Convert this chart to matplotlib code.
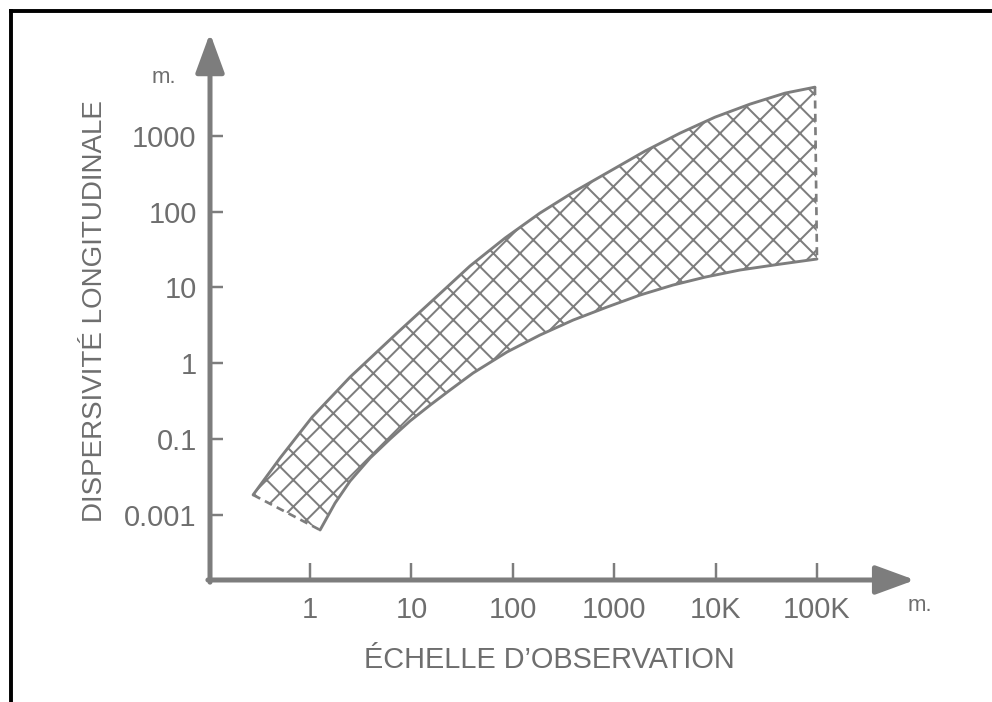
import matplotlib.pyplot as plt
from matplotlib.lines import Line2D

# Data (metres)
scale_upper = [0.274, 0.506, 1.05, 2.48, 7.21, 16.3, 37.8, 83.7, 185, 411, 909,
               2013, 4456, 9862, 21830, 48310, 95500]
disp_upper = [0.0182, 0.0558, 0.194, 0.653, 2.49, 6.78, 19.1, 44.6, 95.3, 186, 341,
              627, 1082, 1758, 2612, 3648, 4375]
scale_lower = [1.255, 1.764, 2.48, 3.91, 6.15, 9.69, 15.3, 24.0, 40.5, 87.7, 185, 393,
               849, 1795, 3800, 7850, 17400, 43200, 100000]
disp_lower = [0.00626, 0.0142, 0.0277, 0.0558, 0.0994, 0.172, 0.279, 0.440, 0.738, 1.40,
              2.34, 3.69, 5.48, 7.89, 10.7, 13.6, 16.9, 20.2, 23.6]

x_ticks = [1, 10, 100, 1000, 1e4, 1e5]
x_labels = ['1', '10', '100', '1000', '10K', '100K']
y_ticks = [0.01, 0.1, 1, 10, 100, 1000]
y_labels = ['0.001', '0.1', '1', '10', '100', '1000']

gray = '#7d7d7d'
text_gray = '#6e6e6e'
plt.rcParams['font.family'] = ['Liberation Sans', 'DejaVu Sans']
plt.rcParams['hatch.linewidth'] = 1.8

fig = plt.figure(figsize=(12.4, 8.775), dpi=80)
ax = fig.add_axes([0.2117, 0.1738, 0.7107, 0.779])
ax.set_xscale('log')
ax.set_yscale('log')
ax.set_xlim(0.103, 9.27e5)
ax.set_ylim(0.00137, 22600)

# hatched band between the two curves
poly_x = scale_upper + scale_lower[::-1]
poly_y = disp_upper + disp_lower[::-1]
ax.fill(poly_x, poly_y, facecolor='none', edgecolor=gray, hatch='x', linewidth=0)
ax.plot(scale_upper, disp_upper, color=gray, lw=2.6, solid_capstyle='round',
        solid_joinstyle='round')
ax.plot(scale_lower, disp_lower, color=gray, lw=2.6, solid_capstyle='round',
        solid_joinstyle='round')
ax.plot([scale_upper[0], scale_lower[0]], [disp_upper[0], disp_lower[0]],
        color=gray, lw=2.4, linestyle=(0, (3, 2)))
ax.plot([scale_upper[-1], scale_lower[-1]], [disp_upper[-1], disp_lower[-1]],
        color=gray, lw=2.4, linestyle=(0, (3, 2)))

# axes drawn as arrows
for sp in ax.spines.values():
    sp.set_visible(False)
arrow = dict(arrowstyle='-|>,head_length=1.5,head_width=0.55', lw=4.5, color=gray,
             shrinkA=0, shrinkB=0, mutation_scale=20)
ax.annotate('', xy=(0, 1), xytext=(0, -0.004), xycoords='axes fraction', arrowprops=arrow)
ax.annotate('', xy=(1, 0), xytext=(-0.003, 0), xycoords='axes fraction', arrowprops=arrow)

ax.set_xticks(x_ticks)
ax.set_xticklabels(x_labels)
ax.set_yticks(y_ticks)
ax.set_yticklabels(y_labels)
ax.minorticks_off()
ax.tick_params(axis='x', direction='in', length=15, width=2.2, color=gray,
               labelcolor=text_gray, labelsize=26, pad=14)
ax.tick_params(axis='y', direction='in', length=12, width=2.2, color=gray,
               labelcolor=text_gray, labelsize=26, pad=12)

fig.text(0.096, 0.557, 'DISPERSIVITÉ LONGITUDINALE', rotation=90, ha='center', va='center',
         fontsize=25, color=text_gray)
fig.text(0.554, 0.06, 'ÉCHELLE D\u2019OBSERVATION', ha='center', va='center',
         fontsize=26, color=text_gray)
fig.text(0.165, 0.89, 'm.', ha='center', va='center', fontsize=20, color=text_gray)
fig.text(0.927, 0.138, 'm.', ha='center', va='center', fontsize=20, color=text_gray)

# scan frame (left and top edges)
fig.add_artist(Line2D([0.011, 0.011], [0, 0.984], color='black', lw=3.5))
fig.add_artist(Line2D([0.011, 1], [0.984, 0.984], color='black', lw=3.5))

fig.savefig('out.png', dpi=80)
